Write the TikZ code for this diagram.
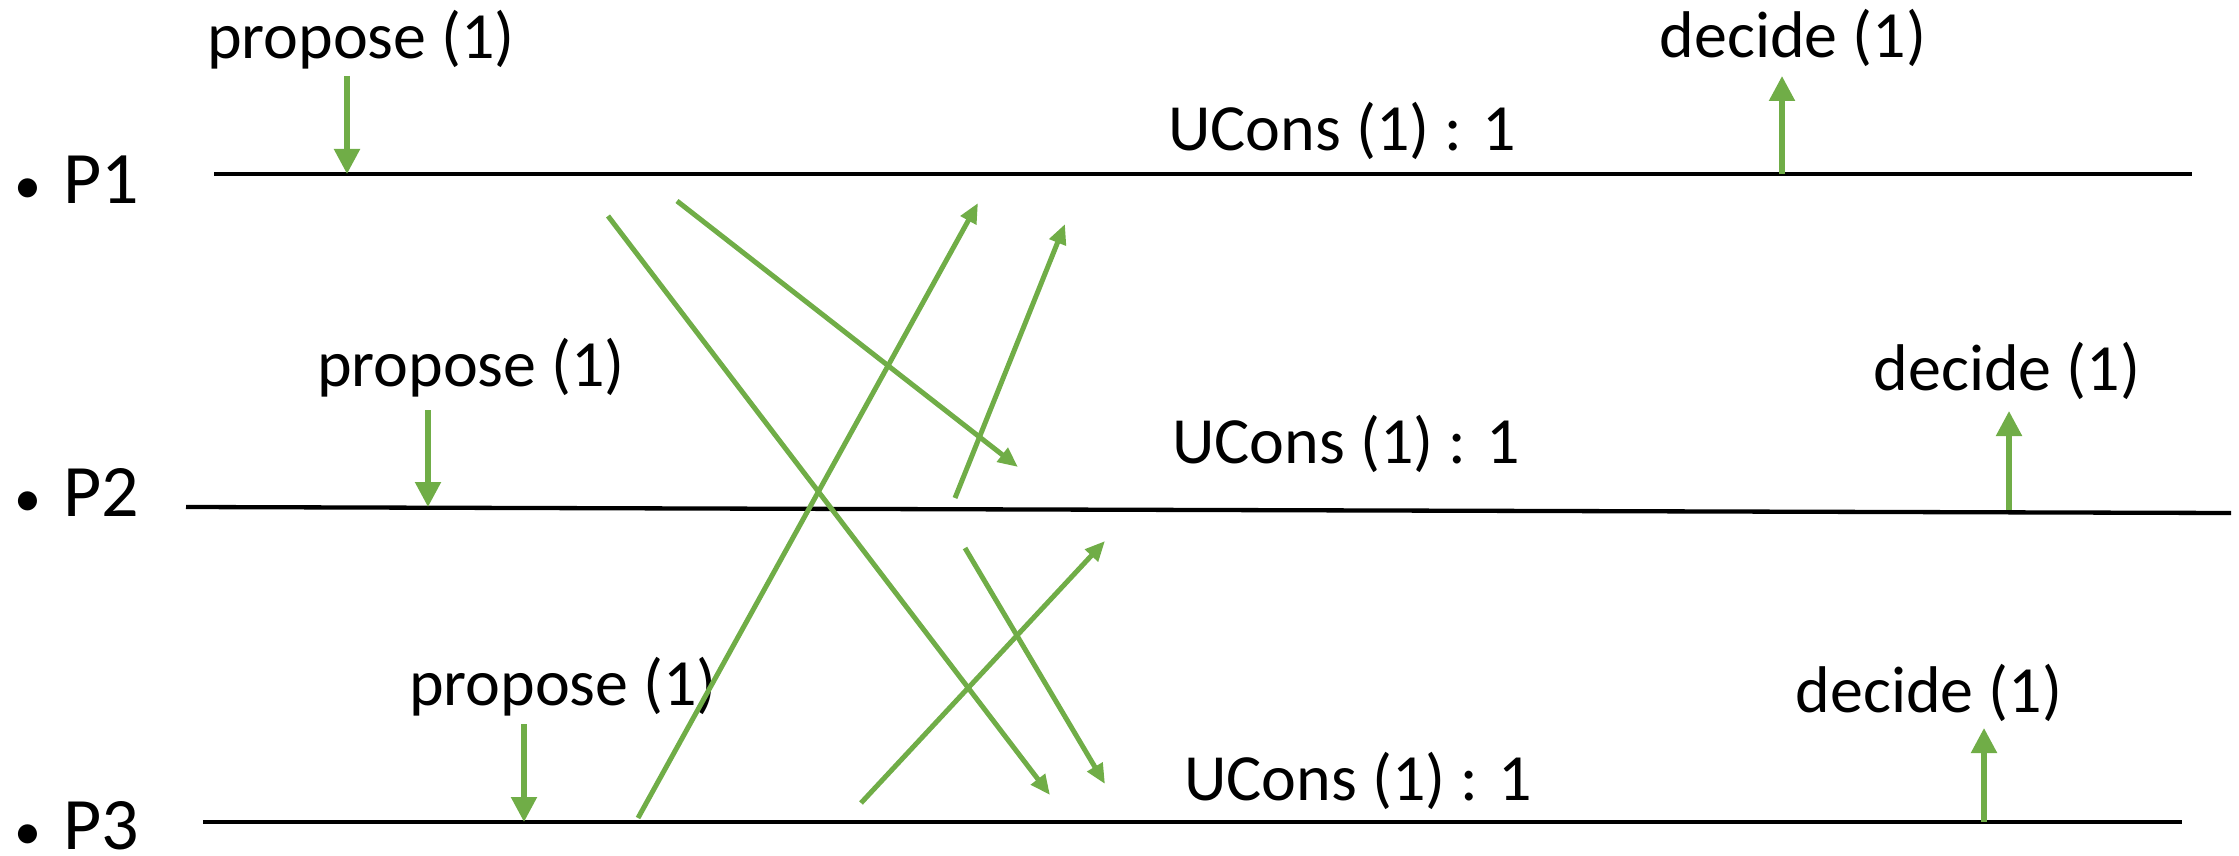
\documentclass[tikz,border=0pt]{standalone}
\usepackage{fontspec}
\setmainfont{Carlito}
\usetikzlibrary{arrows.meta}
\definecolor{msg}{HTML}{70AD47}
\newcommand{\pbullet}{{\fontsize{54}{60}\selectfont •}\hspace{22pt}}
\begin{document}
\begin{tikzpicture}[x=1pt,y=-1pt,
  lbl/.style={inner sep=0pt, font=\fontsize{66}{79}\selectfont},
  proc/.style={inner sep=0pt, anchor=west, font=\fontsize{74}{88}\selectfont},
  timeline/.style={line width=4.3pt, black},
  msgarrow/.style={line width=5pt, msg, -{Triangle[length=20pt,width=17pt]}},
  evt/.style={line width=5.3pt, msg, -{Triangle[length=25pt,width=25pt]}}
]
\useasboundingbox (0,0) rectangle (2239,856);

% process labels
\node[proc] (P1) at (14,180) {\pbullet P1};
\node[proc] (P2) at (14,492) {\pbullet P2};
\node[proc] (P3) at (14,826) {\pbullet P3};

% timelines
\coordinate (l1a) at (214,174); \coordinate (l1b) at (2192,174);
\coordinate (l2a) at (186,507); \coordinate (l2b) at (2231,513);
\coordinate (l3a) at (203,822); \coordinate (l3b) at (2182,822);
\draw[timeline] (l1a) -- (l1b);
\draw[timeline] (l2a) -- (l2b);
\draw[timeline] (l3a) -- (l3b);

% texts
\node[lbl] (prop1) at (361,40) {propose (1)};
\node[lbl] (prop2) at (471,368) {propose (1)};
\node[lbl] (prop3) at (563,687) {propose (1)};
\node[lbl] (dec1) at (1793,38) {decide (1)};
\node[lbl] (dec2) at (2007,371) {decide (1)};
\node[lbl] (dec3) at (1929,693) {decide (1)};
\node[lbl] (uc1) at (1342,131) {UCons (1) : 1};
\node[lbl] (uc2) at (1346,444) {UCons (1) : 1};
\node[lbl] (uc3) at (1358,781) {UCons (1) : 1};

% propose / decide arrows
\coordinate (pa1) at (347,76);   \coordinate (pb1) at (347,174);
\coordinate (pa2) at (428,410);  \coordinate (pb2) at (428,507);
\coordinate (pa3) at (524,724);  \coordinate (pb3) at (524,822);
\coordinate (da1) at (1782,174); \coordinate (db1) at (1782,76);
\coordinate (da2) at (2009,510); \coordinate (db2) at (2009,411);
\coordinate (da3) at (1984,822); \coordinate (db3) at (1984,728);
\draw[evt] (pa1) -- (pb1);
\draw[evt] (pa2) -- (pb2);
\draw[evt] (pa3) -- (pb3);
\draw[evt] (da1) -- (db1);
\draw[evt] (da2) -- (db2);
\draw[evt] (da3) -- (db3);

% messages
\coordinate (m1a) at (608,216); \coordinate (m1b) at (1050,795);
\coordinate (m2a) at (677,201); \coordinate (m2b) at (1018,467);
\coordinate (m3a) at (638,818); \coordinate (m3b) at (978,203);
\coordinate (m4a) at (955,498); \coordinate (m4b) at (1065,224);
\coordinate (m5a) at (965,548); \coordinate (m5b) at (1105,784);
\coordinate (m6a) at (861,803); \coordinate (m6b) at (1105,541);
\draw[msgarrow] (m1a) -- (m1b);
\draw[msgarrow] (m2a) -- (m2b);
\draw[msgarrow] (m3a) -- (m3b);
\draw[msgarrow] (m4a) -- (m4b);
\draw[msgarrow] (m5a) -- (m5b);
\draw[msgarrow] (m6a) -- (m6b);
\end{tikzpicture}
\end{document}
